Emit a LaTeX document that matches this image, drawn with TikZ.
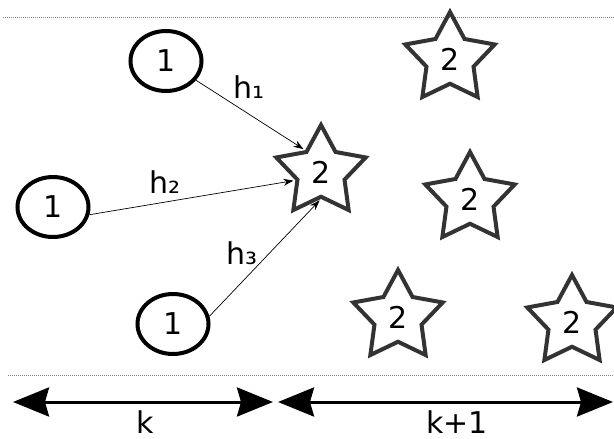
\documentclass[tikz,border=0pt]{standalone}
\usepackage{fontspec}
\setmainfont{DejaVu Sans}
\usetikzlibrary{arrows.meta,shapes.geometric}

\begin{document}
\begin{tikzpicture}[
  x=1pt, y=-1pt,
  font=\fontsize{30}{35}\selectfont,
  src/.style={draw, ellipse, line width=4pt, minimum width=71pt, minimum height=60pt, inner sep=0pt},
  dst/.style={draw=black!80, star, star points=5, star point ratio=1.9, line width=4pt, minimum size=94pt, inner sep=0pt},
  link/.style={-{Stealth[length=10pt,width=7pt]}, line width=0.7pt, shorten >=2pt},
  span/.style={{Stealth[length=36pt,width=29pt,inset=4pt]}-{Stealth[length=36pt,width=29pt,inset=4pt]}, line width=3pt},
  sep/.style={draw=black!50, line width=1pt, dash pattern=on 1pt off 1pt}
]
\useasboundingbox (0,0) rectangle (614,439);

\draw[sep] (3,17) -- (614,17);
\draw[sep] (8,375) -- (614,375);

\node[src] (c1) at (166,61) {1};
\node[src] (c2) at (53,207) {1};
\node[src] (c3) at (173,324) {1};

\node[dst] (s0) at (321,172) {2};
\node[dst] (s1) at (450,59) {2};
\node[dst] (s2) at (470,199) {2};
\node[dst] (s3) at (398,317) {2};
\node[dst] (s4) at (572,322) {2};

\draw[link] (c1) -- (s0.inner point 1);
\draw[link] (c2.-12) -- (s0.inner point 2);
\draw[link] (c3.12) -- (s0.inner point 3);
\node[anchor=base] (h1) at (249,98) {h₁};
\node[anchor=base] (h2) at (165,193) {h₂};
\node[anchor=base] (h3) at (242,264) {h₃};

\coordinate (kL) at (13,402);
\coordinate (kA) at (273,402);
\coordinate (kB) at (278,402);
\coordinate (kR) at (613,402);
\draw[span] (kL) -- (kA);
\draw[span] (kB) -- (kR);
\node[anchor=base, inner sep=1pt] (k) at (145,433) {k};
\node[anchor=base, inner sep=1pt] (k1) at (457,433) {k+1};

\end{tikzpicture}
\end{document}
